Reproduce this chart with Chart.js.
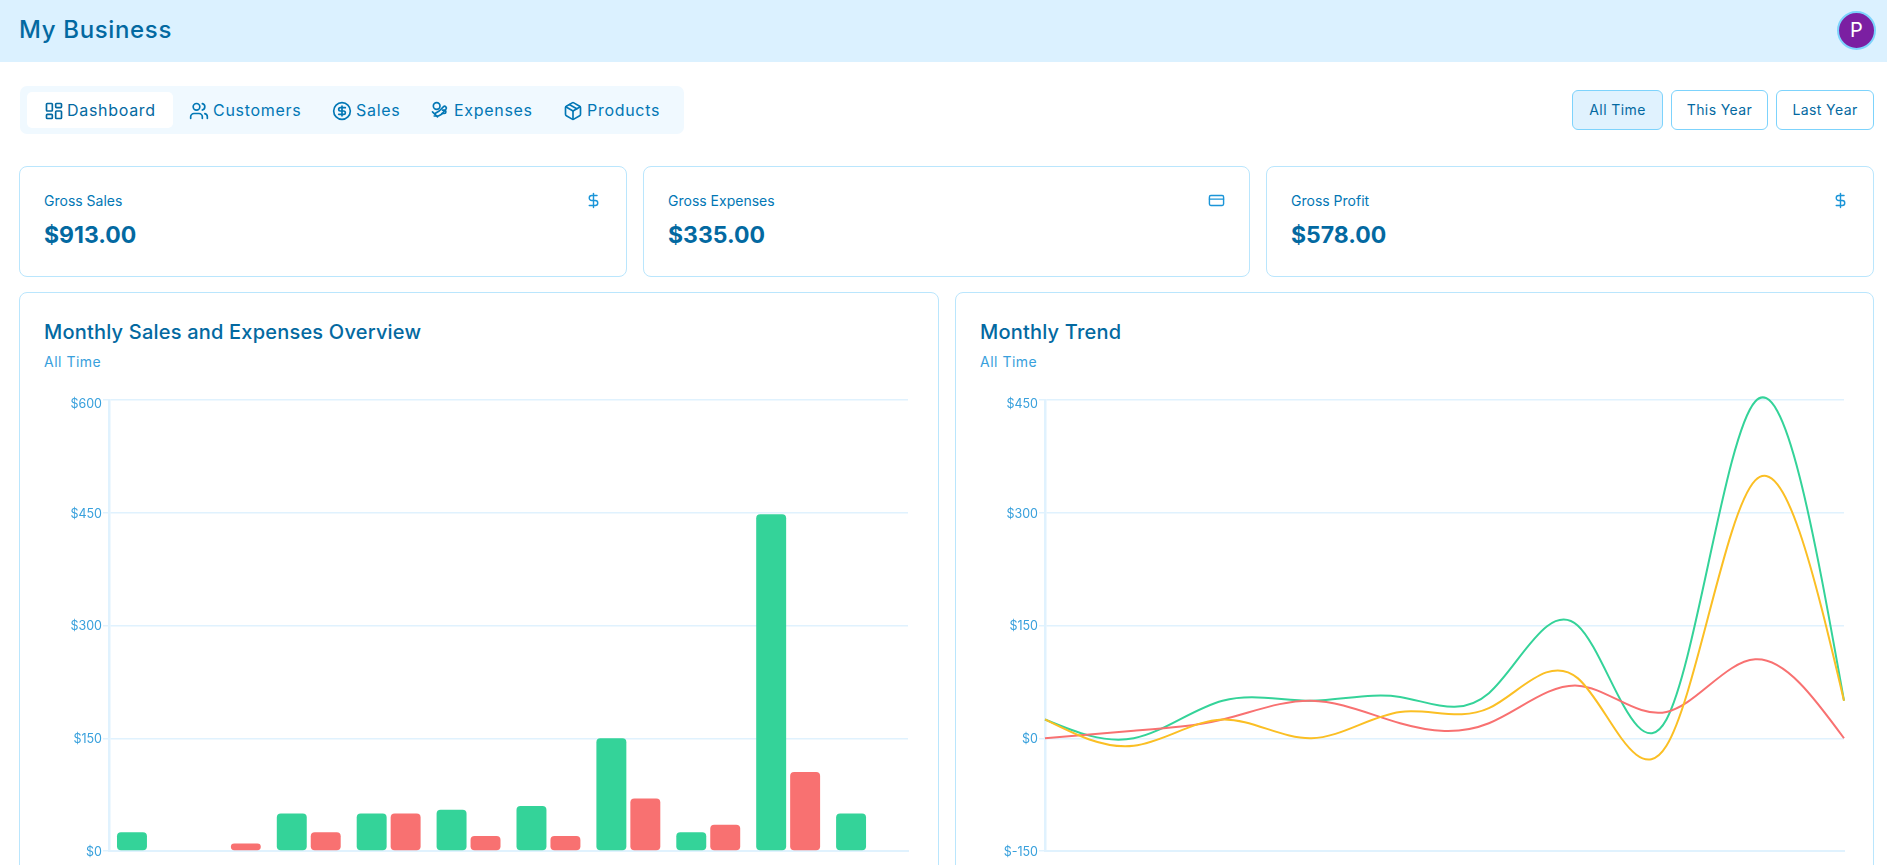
<!DOCTYPE html>
<html>
<head>
<meta charset="utf-8">
<title>My Business</title>
<script src="https://cdn.jsdelivr.net/npm/chart.js@4/dist/chart.umd.min.js"></script>
<style>
html, body { margin: 0; padding: 0; width: 1887px; height: 865px; overflow: hidden; background: #fff; font-family: Inter, sans-serif; color: #0369a1; }
div, span, canvas { position: absolute; box-sizing: border-box; white-space: nowrap; }
svg { position: absolute; fill: none; stroke: currentColor; stroke-width: 2; stroke-linecap: round; stroke-linejoin: round; }
.header { left: 0; top: 0; width: 1887px; height: 62px; background: #dbf1ff; }
.brand { left: 19px; top: 14px; font-size: 24px; line-height: 32px; font-weight: 500; letter-spacing: 0.65px; }
.avatar { left: 1837px; top: 11px; width: 39px; height: 39px; border-radius: 50%; background: #7b1fa2; border: 2px solid #7dd3fc; color: #fff; font-size: 20px; line-height: 35px; text-align: center; }
.tabs { left: 20px; top: 86px; width: 664px; height: 48px; background: #f0f9ff; border-radius: 7px; }
.active-tab { left: 27px; top: 92px; width: 146px; height: 36px; background: #fff; border-radius: 5px; }
.tab { top: 100px; font-size: 16px; line-height: 20px; color: #0277b5; letter-spacing: 0.7px; }
.tab-icon { top: 101px; width: 20px; height: 20px; color: #0277b5; }
.btn { top: 90px; height: 40px; border: 1px solid #7dd3fc; border-radius: 6px; font-size: 14px; line-height: 38px; text-align: center; letter-spacing: 0.4px; }
.btn.on { background: #e0f2fe; }
.card { border: 1px solid #bae6fd; border-radius: 8px; background: #fff; }
.stat-label { top: 192px; font-size: 14px; line-height: 18px; color: #0277b5; }
.stat-value { top: 219px; font-size: 23px; line-height: 32px; font-weight: 700; }
.stat-icon { top: 192px; width: 17px; height: 17px; color: #1b95d8; }
.chart-title { top: 319px; font-size: 20px; line-height: 26px; font-weight: 500; letter-spacing: 0.2px; }
.chart-sub { top: 353px; font-size: 14px; line-height: 18px; color: #38a0dc; letter-spacing: 0.5px; }
</style>
</head>
<body>
<div class="header"></div>
<div class="brand">My Business</div>
<div class="avatar">P</div>

<div class="tabs"></div>
<div class="active-tab"></div>
<svg class="tab-icon" style="left:44px;color:#0369a1" viewBox="0 0 24 24"><rect x="3" y="3" width="7" height="9" rx="1"/><rect x="14" y="3" width="7" height="5" rx="1"/><rect x="14" y="12" width="7" height="9" rx="1"/><rect x="3" y="16" width="7" height="5" rx="1"/></svg>
<span class="tab" style="left:67px;color:#0369a1">Dashboard</span>
<svg class="tab-icon" style="left:189px" viewBox="0 0 24 24"><path d="M16 21v-2a4 4 0 0 0-4-4H6a4 4 0 0 0-4 4v2"/><circle cx="9" cy="7" r="4"/><path d="M22 21v-2a4 4 0 0 0-3-3.87"/><path d="M16 3.13a4 4 0 0 1 0 7.75"/></svg>
<span class="tab" style="left:213px">Customers</span>
<svg class="tab-icon" style="left:332px" viewBox="0 0 24 24"><circle cx="12" cy="12" r="10"/><path d="M16 8h-6a2 2 0 1 0 0 4h4a2 2 0 1 1 0 4H8"/><path d="M12 18V6"/></svg>
<span class="tab" style="left:356px">Sales</span>
<svg class="tab-icon" style="left:430px" viewBox="0 0 24 24"><circle cx="8" cy="6" r="4"/><path d="M15 11h2a2 2 0 1 1 0 4h-3"/><path d="m6 15 5-3 5-5a2 2 0 0 1 3 3l-5 6-4 2H5"/><path d="m3 13 6 6"/></svg>
<span class="tab" style="left:454px">Expenses</span>
<svg class="tab-icon" style="left:563px" viewBox="0 0 24 24"><path d="M21 8a2 2 0 0 0-1-1.73l-7-4a2 2 0 0 0-2 0l-7 4A2 2 0 0 0 3 8v8a2 2 0 0 0 1 1.73l7 4a2 2 0 0 0 2 0l7-4A2 2 0 0 0 21 16Z"/><path d="m3.3 7 8.7 5 8.7-5"/><path d="M12 22V12"/><path d="m7.5 4.3 9 5.1"/></svg>
<span class="tab" style="left:587px">Products</span>

<div class="btn on" style="left:1572px;width:91px">All Time</div>
<div class="btn" style="left:1671px;width:97px">This Year</div>
<div class="btn" style="left:1776px;width:98px">Last Year</div>

<div class="card" style="left:19px;top:166px;width:608px;height:111px"></div>
<div class="card" style="left:643px;top:166px;width:607px;height:111px"></div>
<div class="card" style="left:1266px;top:166px;width:608px;height:111px"></div>
<span class="stat-label" style="left:44px">Gross Sales</span>
<span class="stat-label" style="left:668px">Gross Expenses</span>
<span class="stat-label" style="left:1291px">Gross Profit</span>
<span class="stat-value" style="left:44px">$913.00</span>
<span class="stat-value" style="left:668px">$335.00</span>
<span class="stat-value" style="left:1291px">$578.00</span>
<svg class="stat-icon" style="left:585px" viewBox="0 0 24 24"><path d="M12 2v20"/><path d="M17 5H9.5a3.5 3.5 0 0 0 0 7h5a3.5 3.5 0 0 1 0 7H6"/></svg>
<svg class="stat-icon" style="left:1208px" viewBox="0 0 24 24"><rect x="2" y="5" width="20" height="14" rx="2"/><path d="M2 10h20"/></svg>
<svg class="stat-icon" style="left:1832px" viewBox="0 0 24 24"><path d="M12 2v20"/><path d="M17 5H9.5a3.5 3.5 0 0 0 0 7h5a3.5 3.5 0 0 1 0 7H6"/></svg>

<div class="card" style="left:19px;top:292px;width:920px;height:640px"></div>
<div class="card" style="left:955px;top:292px;width:919px;height:640px"></div>
<span class="chart-title" style="left:44px">Monthly Sales and Expenses Overview</span>
<span class="chart-sub" style="left:44px">All Time</span>
<span class="chart-title" style="left:980px">Monthly Trend</span>
<span class="chart-sub" style="left:980px">All Time</span>

<canvas id="barChart" style="left:40px;top:385px;width:880px;height:500px"></canvas>
<canvas id="lineChart" style="left:976px;top:385px;width:880px;height:500px"></canvas>

<script>
var months = ["Aug", "Sep", "Oct", "Feb", "Mar", "Apr", "May", "Sep", "Feb", "Apr"];
var sales = [25, 0, 50, 50, 55, 60, 150, 25, 448, 50];
var expenses = [0, 10, 25, 50, 20, 20, 70, 35, 105, 0];
var profit = [25, -10, 25, 0, 35, 40, 80, -10, 343, 50];
var barTicks = [0, 150, 300, 450, 600];
var lineTicks = [-150, 0, 150, 300, 450];

var GREEN = "#34d399", RED = "#f87171", YELLOW = "#fbbf24";
var AXIS = "#e0f2fe", TICK = "#38a0dc";

// same maths as d3 curveNatural, one coordinate at a time
function naturalControls(x) {
    var n = x.length - 1, a = [], b = [], r = [], i, m;
    a[0] = 0; b[0] = 2; r[0] = x[0] + 2 * x[1];
    for (i = 1; i < n - 1; i++) { a[i] = 1; b[i] = 4; r[i] = 4 * x[i] + 2 * x[i + 1]; }
    a[n - 1] = 2; b[n - 1] = 7; r[n - 1] = 8 * x[n - 1] + x[n];
    for (i = 1; i < n; i++) { m = a[i] / b[i - 1]; b[i] -= m; r[i] -= m * r[i - 1]; }
    a[n - 1] = r[n - 1] / b[n - 1];
    for (i = n - 2; i >= 0; i--) a[i] = (r[i] - a[i + 1]) / b[i];
    b[n - 1] = (x[n] + a[n - 1]) / 2;
    for (i = 0; i < n - 1; i++) b[i] = 2 * x[i + 1] - a[i + 1];
    return [a, b];
}

var naturalCurve = {
    id: "naturalCurve",
    beforeDatasetDraw: function(chart, args) {
        var line = args.meta.dataset;
        if (!line) return;
        line.updateControlPoints(chart.chartArea);
        var pts = line.points;
        var xc = naturalControls(pts.map(function(p) { return p.x; }));
        var yc = naturalControls(pts.map(function(p) { return p.y; }));
        for (var i = 0; i < pts.length - 1; i++) {
            pts[i].cp2x = xc[0][i]; pts[i].cp2y = yc[0][i];
            pts[i + 1].cp1x = xc[1][i]; pts[i + 1].cp1y = yc[1][i];
        }
    }
};

// tick labels sit a touch low, the top one a little under its grid line
var labelNudge = {
    id: "labelNudge",
    afterUpdate: function(chart) {
        var items = chart.scales.y.getLabelItems();
        items.forEach(function(item, i) {
            item.options.translation[1] += i == items.length - 1 ? 4 : 1;
        });
    }
};

function yScale(tickList) {
    return {
        min: tickList[0],
        max: tickList[tickList.length - 1],
        afterFit: function(scale) { scale.width = 69; },
        afterBuildTicks: function(scale) { scale.ticks = tickList.map(function(v) { return {value: v}; }); },
        border: {color: AXIS, width: 2.5},
        grid: {color: AXIS, lineWidth: 1.5, tickLength: 6, tickColor: AXIS},
        ticks: {
            color: TICK,
            font: {family: "Inter", size: 12.5},
            padding: 1,
            callback: function(v) { return "$" + v; }
        }
    };
}

function xScale() {
    return {
        afterFit: function(scale) { scale.height = 34; scale.paddingLeft = 0; scale.paddingRight = 0; },
        border: {color: AXIS, width: 2},
        grid: {display: false},
        ticks: {color: TICK, font: {family: "Inter", size: 12}, padding: 4, maxRotation: 0, autoSkip: false}
    };
}

function baseOptions(tickList) {
    return {
        responsive: false,
        animation: false,
        layout: {padding: {top: 15, right: 12, left: 0, bottom: 0}},
        plugins: {legend: {display: false}, tooltip: {enabled: false}},
        scales: {x: xScale(), y: yScale(tickList)}
    };
}

function fixSize(id) {
    var c = document.getElementById(id);
    c.width = 880; c.height = 500;
    return c;
}

function barSet(data, color) {
    return {data: data, backgroundColor: color, borderRadius: 4, borderSkipped: false,
        categoryPercentage: 0.85, barPercentage: 0.882};
}

function lineSet(data, color, order) {
    return {data: data, borderColor: color, borderWidth: 2, pointRadius: 0, tension: 0.4, clip: false, fill: false, order: order};
}

new Chart(fixSize("barChart"), {
    type: "bar",
    data: {labels: months, datasets: [barSet(sales, GREEN), barSet(expenses, RED)]},
    options: baseOptions(barTicks),
    plugins: [labelNudge]
});

var lineOptions = baseOptions(lineTicks);
lineOptions.scales.x.offset = false;
lineOptions.elements = {line: {capBezierPoints: false}};
new Chart(fixSize("lineChart"), {
    type: "line",
    data: {labels: months, datasets: [lineSet(sales, GREEN, 3), lineSet(expenses, RED, 2), lineSet(profit, YELLOW, 1)]},
    options: lineOptions,
    plugins: [naturalCurve, labelNudge]
});
</script>
</body>
</html>
